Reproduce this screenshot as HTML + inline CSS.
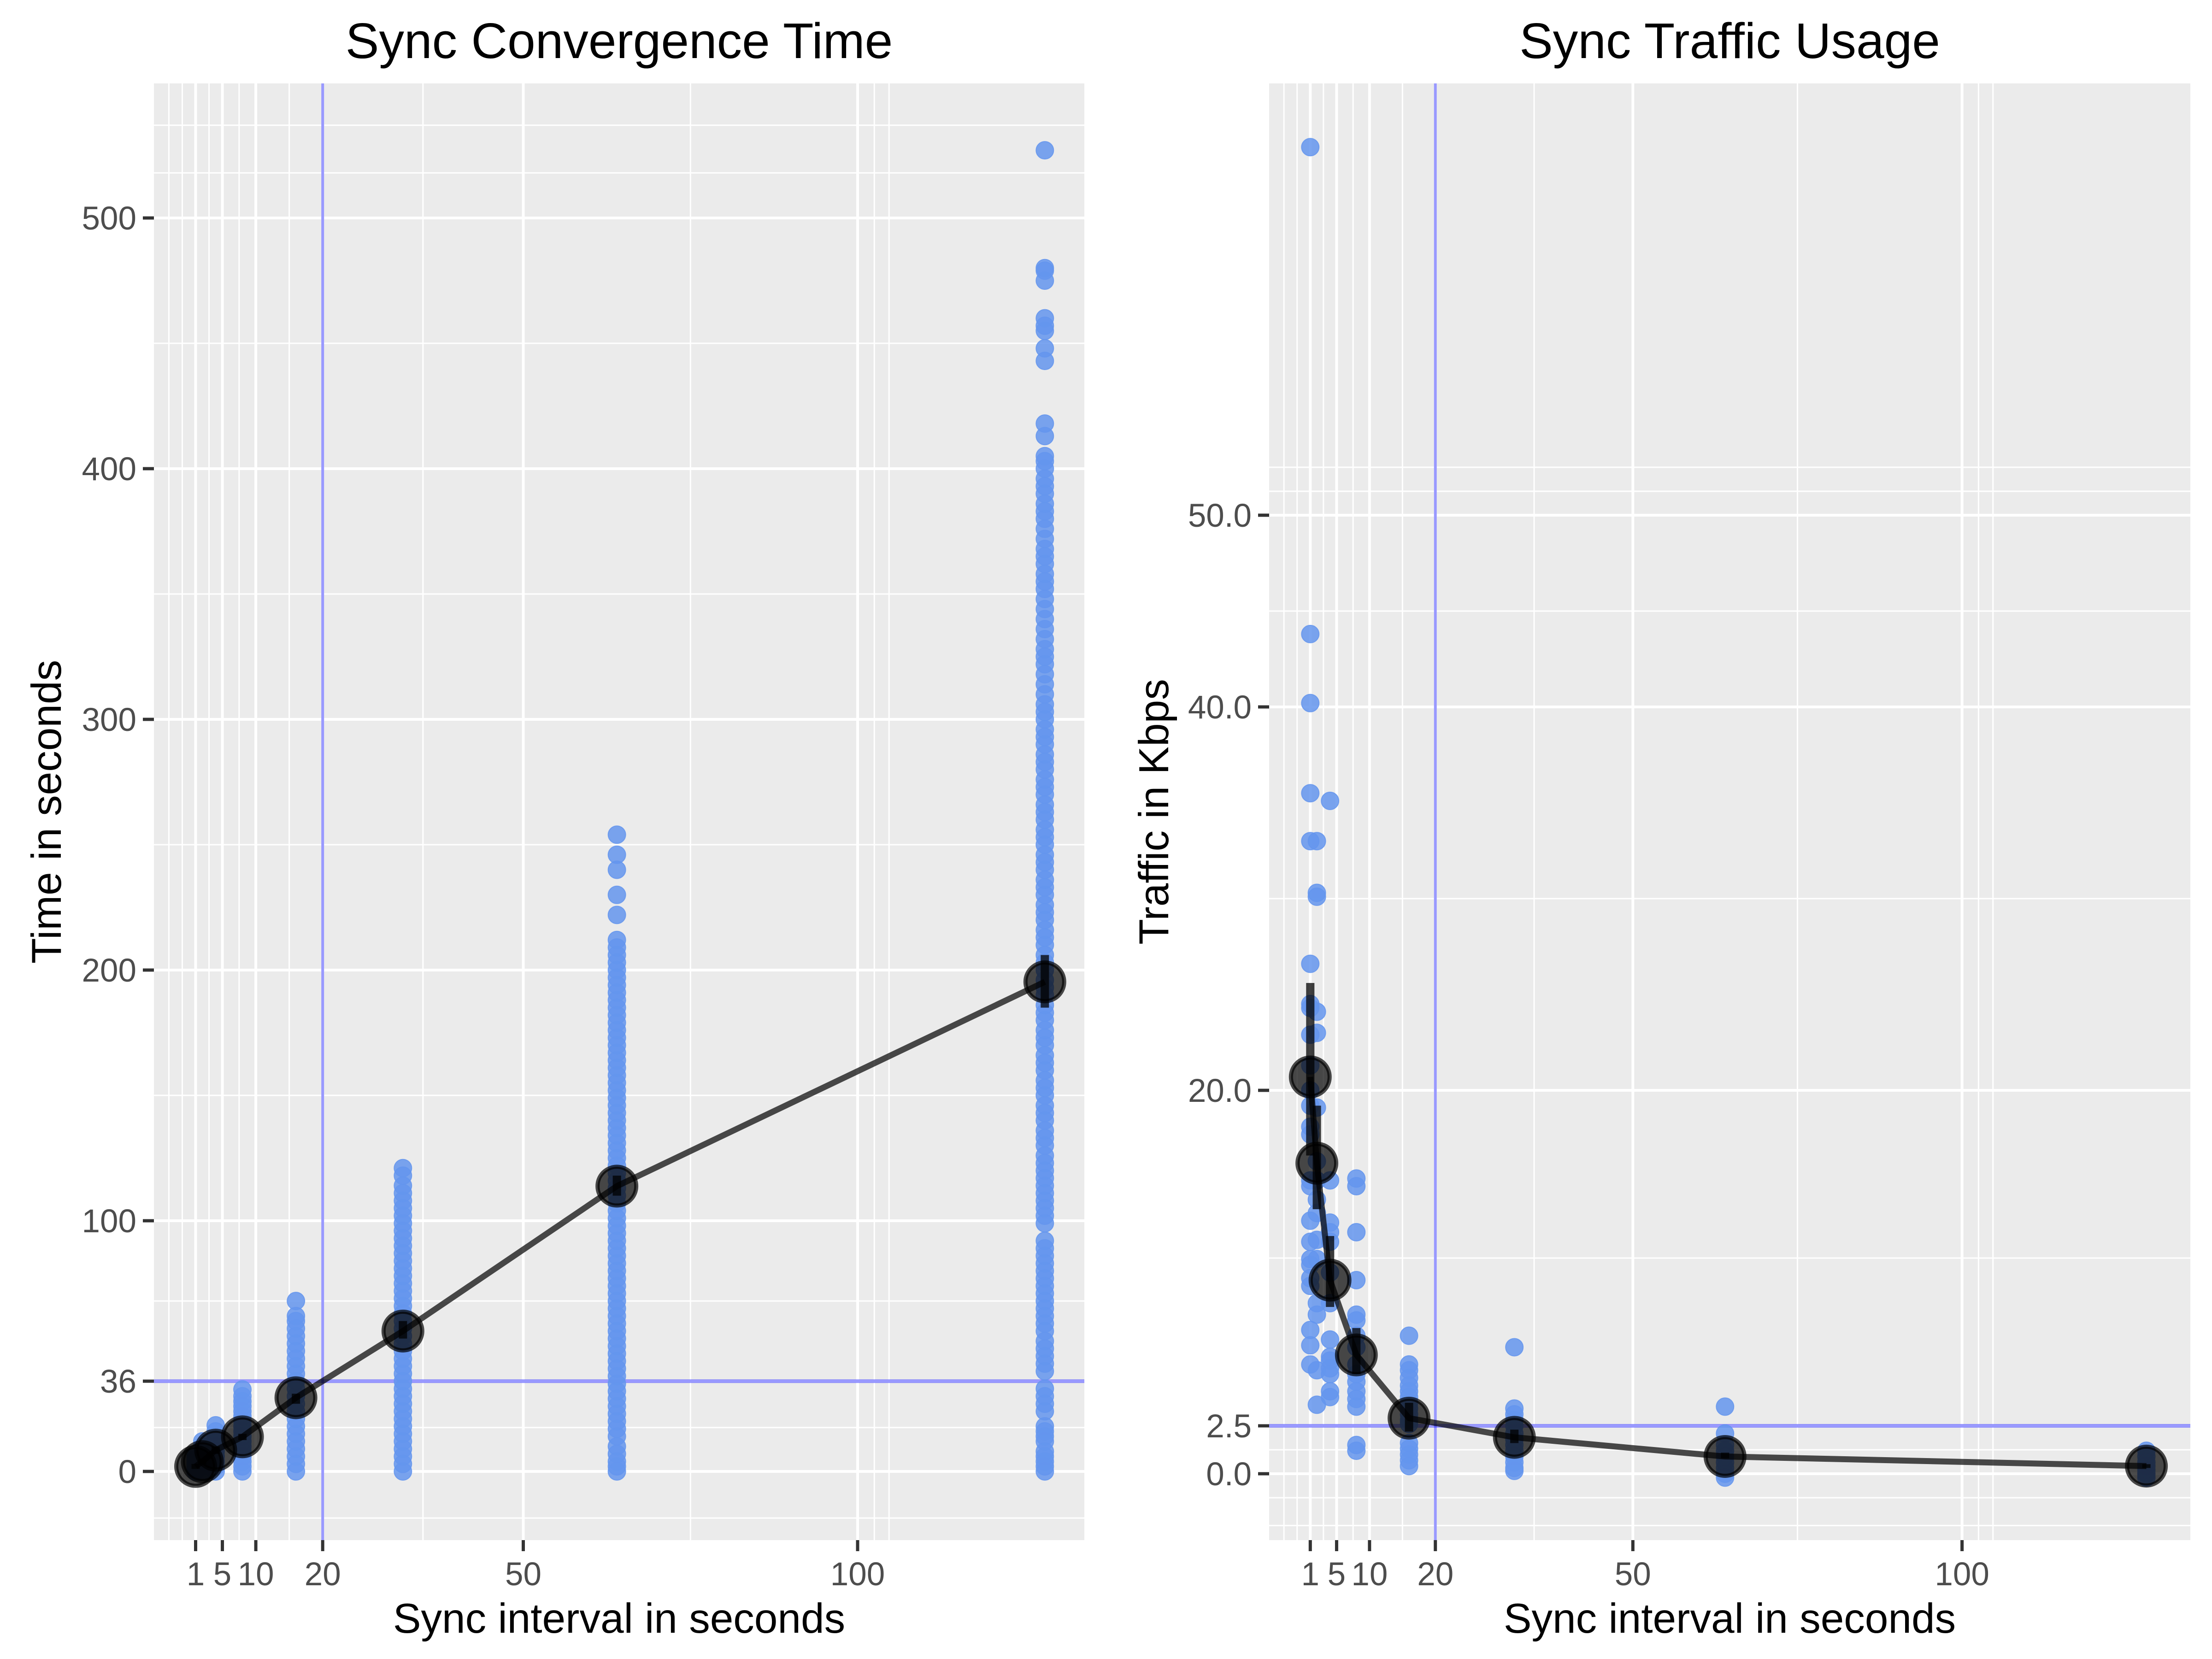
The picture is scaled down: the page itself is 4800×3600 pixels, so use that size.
<!DOCTYPE html>
<html><head><meta charset="utf-8"><style>
html,body{margin:0;padding:0;background:#fff;}
svg{display:block;font-family:"Liberation Sans",Arial,sans-serif;}
</style></head><body>
<svg id="chart" width="4800" height="3600" viewBox="0 0 4800 3600"></svg>
<script>
// ---------- data ----------
const intervals = [1, 2, 4, 8, 16, 32, 64, 128];
const timeMeans = [2, 3.9, 8.5, 13.8, 29.4, 56, 113.8, 195.3];
const timeErrLow = [1, 3, 7, 12.5, 27, 53, 110, 185];
const timeErrHigh = [3, 5, 10, 15, 31, 60, 118, 206];
const trafficMeans = [20.7, 16.2, 10.1, 6.2, 2.9, 1.9, 0.9, 0.4];
const trafficErrLow = [16.6, 13.8, 8.7, 5.2, 2.2, 1.6, 0.8, 0.3];
const trafficErrHigh = [25.6, 19.2, 12.4, 7.6, 3.7, 2.3, 1.1, 0.5];

const timeAt1 = [0,1,2,3,4,5,6];
const timeAt2 = [0,2,4,6,8,10,12];
const timeAt4 = [0,2,4,6,8,10,12,14,16,18.4];
const timeAt8 = [0,2,4,6,8,10,12,14,16,18,20,22,24,26,28,30,32.7];
const timeAt16 = [0,3,6,9,12,15,18,21,24,27,30,33,36,39,42,45,48,51,54,57,60,62,68];
const timeAt32 = [0,3,6,9,12,15,18,21,24,27,30,33,36,39,42,45,48,51,54,57,60,63,66,69,72,75,78,81,84,87,90,93,96,99,102,105,108,111,114,118,121];
const timeAt64 = [0,2,4,7,10,14,17,20,23,26,29,32,35,38,41,44,47,50,53,56,59,62,65,68,71,74,77,80,83,86,89,92,95,98,101,104,107,110,113,116,119,122,125,128,131,134,137,140,143,146,149,152,155,158,161,164,167,170,173,176,179,182,185,188,191,194,197,200,203,206,209,212,222,230,240,246,254];
const timeAt128 = [0,2,4,6,8,12,14,16,18,24,27,30,33,40,43,46,49,52,56,59,62,65,68,71,74,77,80,83,86,89,92,99,102,105,108,111,114,117,120,123,126,130,133,136,140,143,146,150,153,156,160,163,166,170,173,176,180,183,186,190,193,196,200,203,206,210,213,216,220,223,226,230,233,236,240,243,246,250,253,256,260,263,266,270,273,276,280,283,286,290,293,296,300,303,306,310,314,318,322,325,328,332,336,340,344,348,352,355,358,362,365,368,372,376,380,383,386,390,393,396,400,403,405,413,418,443,448,455,457,460,475,479,480,527];
const timePoints = [timeAt1,timeAt2,timeAt4,timeAt8,timeAt16,timeAt32,timeAt64,timeAt128];

const trafficAt1 = [69.2,43.8,40.2,35.5,33,26.6,24.5,24.3,22.9,21.3,20,19.2,18.1,17.7,15.3,15,13.2,12.1,11.2,10.9,10.2,9.8,7.5,6.7,5.7];
const trafficAt2 = [33,30.3,30.1,24.1,23,19.1,16.3,15.3,14.3,13.6,12.2,11.2,8.9,8.3,5.4,3.6];
const trafficAt4 = [35.1,15.3,13.1,12.6,12.1,10.5,8.9,7,6.1,5.9,5.5,5.2,4.3,4];
const trafficAt8 = [15.4,15,12.6,10.1,8.3,8,7.2,6.6,5.7,5.2,4.8,4.3,3.9,3.5,1.5,1.2];
const trafficAt16 = [7.2,5.7,5.4,5,4.6,4.3,4,3.7,3.4,3.1,2.8,2.6,1.6,1.3,1,0.7,0.4];
const trafficAt32 = [6.6,3.4,3.1,2.8,2.5,2.1,1.8,1.5,1.2,0.9,0.6,0.3,0.15];
const trafficAt64 = [3.5,2.1,1.5,1.2,0.9,0.6,0.3,0,-0.2];
const trafficAt128 = [1.2,0.9,0.6,0.4,0.2,0,-0.2];
const trafficPoints = [trafficAt1,trafficAt2,trafficAt4,trafficAt8,trafficAt16,trafficAt32,trafficAt64,trafficAt128];

const xTickLabels = ["1","5","10","20","50","100"];
const xTickValues = [1,5,10,20,50,100];
const xMinorValues = [-3,-1,3,7.5,15,35,75,102.5,104.7];
const timeTickValues = [0,36,100,200,300,400,500];
const timeTickLabels = ["0","36","100","200","300","400","500"];
const timeMinorValues = [-18.6,17.5,68,150,250,350,450,518,537];
const trafficTickValues = [0,2.5,20,40,50];
const trafficTickLabels = ["0.0","2.5","20.0","40.0","50.0"];
const trafficMinorValues = [-2.7,-1.25,1.25,11.25,30,45,51.25,52.5];

// ---------- drawing ----------
const NS = "http://www.w3.org/2000/svg";
const svg = document.getElementById("chart");
function mk(tag, attrs, parent) {
  const e = document.createElementNS(NS, tag);
  for (const k in attrs) e.setAttribute(k, attrs[k]);
  (parent || svg).appendChild(e);
  return e;
}

function drawPanel(cfg) {
  const g = mk("g", {});
  
  
  const L = cfg.left, R = cfg.right, T = 181, B = 3342;
  const sx = v => cfg.x0 + v * cfg.xk;
  const sy = v => cfg.y0 - v * cfg.yk;

  const bg = mk("rect", {x:L, y:T, width:R-L, height:B-T, fill:"#EBEBEB"}, g);
  
  

  cfg.yMinor.forEach(v => {
    const l = mk("line", {x1:L, x2:R, y1:sy(v), y2:sy(v), stroke:"#fff", "stroke-width":3}, g);
    
    
  });
  xMinorValues.forEach(v => {
    const l = mk("line", {x1:sx(v), x2:sx(v), y1:T, y2:B, stroke:"#fff", "stroke-width":3}, g);
    
    
  });
  cfg.yTicks.forEach(v => {
    const l = mk("line", {x1:L, x2:R, y1:sy(v), y2:sy(v), stroke:"#fff", "stroke-width":6}, g);
    
    
  });
  xTickValues.forEach(v => {
    const l = mk("line", {x1:sx(v), x2:sx(v), y1:T, y2:B, stroke:"#fff", "stroke-width":6}, g);
    
    
  });

  const rv = mk("line", {x1:sx(20), x2:sx(20), y1:T, y2:B, stroke:"#0000FF", "stroke-opacity":0.4, "stroke-width":6}, g);
  
  
  const rh = mk("line", {x1:L, x2:R, y1:sy(cfg.refY), y2:sy(cfg.refY), stroke:"#0000FF", "stroke-opacity":0.4, "stroke-width":8}, g);
  
  

  intervals.forEach((xv, i) => {
    cfg.points[i].forEach(v => {
      const c = mk("circle", {cx:sx(xv), cy:sy(v), r:19, fill:"#6495ED", "fill-opacity":0.85, stroke:"#6495ED", "stroke-opacity":0.85, "stroke-width":2}, g);
      
      
    });
  });

  const d = intervals.map((xv, i) => (i ? "L" : "M") + sx(xv) + " " + sy(cfg.means[i])).join(" ");
  const p = mk("path", {d:d, fill:"none", stroke:"#000", "stroke-opacity":0.7, "stroke-width":13, "stroke-linejoin":"round"}, g);
  
  

  intervals.forEach((xv, i) => {
    const y1 = sy(cfg.errHigh[i]), y2 = sy(cfg.errLow[i]);
    const r = mk("rect", {x:sx(xv)-9, y:y1, width:18, height:Math.max(4, y2-y1), fill:"#000", "fill-opacity":0.75}, g);
    
    
  });

  intervals.forEach((xv, i) => {
    const c = mk("circle", {cx:sx(xv), cy:sy(cfg.means[i]), r:42, fill:"#000", "fill-opacity":0.7, stroke:"#000", "stroke-opacity":0.7, "stroke-width":9}, g);
    
    
  });

  cfg.yTicks.forEach((v, i) => {
    const t = mk("line", {x1:L-24, x2:L, y1:sy(v), y2:sy(v), stroke:"#333", "stroke-width":7}, g);
    
    
    const tx = mk("text", {x:L-38, y:sy(v)+25, "text-anchor":"end", "font-size":71, fill:"#4D4D4D"}, g);
    tx.textContent = cfg.yLabels[i];
    
    
  });
  xTickValues.forEach((v, i) => {
    const t = mk("line", {x1:sx(v), x2:sx(v), y1:B, y2:B+24, stroke:"#333", "stroke-width":7}, g);
    
    
    const tx = mk("text", {x:sx(v), y:3440, "text-anchor":"middle", "font-size":71, fill:"#4D4D4D"}, g);
    tx.textContent = xTickLabels[i];
    
    
  });

  const xt = mk("text", {x:(L+R)/2, y:3543, "text-anchor":"middle", "font-size":91, fill:"#000"}, g);
  xt.textContent = "Sync interval in seconds";
  
  
  const yt = mk("text", {x:0, y:0, "text-anchor":"middle", "font-size":91, fill:"#000", transform:"translate(" + cfg.yTitleX + "," + ((T+B)/2) + ") rotate(-90)"}, g);
  yt.textContent = cfg.yTitle;
  
  
  const tt = mk("text", {x:(L+R)/2, y:126, "text-anchor":"middle", "font-size":109, fill:"#000"}, g);
  tt.textContent = cfg.title;
  
  
}

drawPanel({
  name: "convergence-time-panel", title: "Sync Convergence Time", yTitle: "Time in seconds",
  left: 334, right: 2353, x0: 410, xk: 14.51, y0: 3193, yk: 5.44, yTitleX: 132,
  yTicks: timeTickValues, yLabels: timeTickLabels, yMinor: timeMinorValues, refY: 36,
  points: timePoints, means: timeMeans, errLow: timeErrLow, errHigh: timeErrHigh
});
drawPanel({
  name: "traffic-usage-panel", title: "Sync Traffic Usage", yTitle: "Traffic in Kbps",
  left: 2754, right: 4753, x0: 2829, xk: 14.286, y0: 3198, yk: 41.6, yTitleX: 2535,
  yTicks: trafficTickValues, yLabels: trafficTickLabels, yMinor: trafficMinorValues, refY: 2.5,
  points: trafficPoints, means: trafficMeans, errLow: trafficErrLow, errHigh: trafficErrHigh
});
</script>
</body></html>
